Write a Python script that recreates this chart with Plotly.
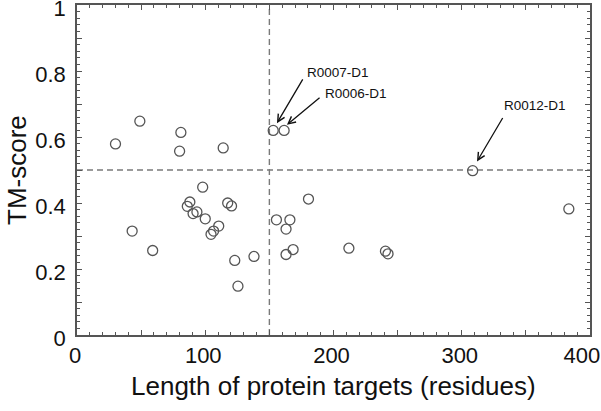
import plotly.graph_objects as go

# Data
length = [30, 49, 81, 80, 114, 98, 88, 86, 93.5, 90.5, 100, 117.5, 120.5, 110.5, 106.5,
          104.5, 43, 59, 123, 138, 125.5, 155.5, 166, 163, 168.5, 163, 153, 161.5,
          308.5, 180.5, 212, 240.5, 242.5, 383.5]
tm_score = [0.579, 0.648, 0.614, 0.557, 0.567, 0.448, 0.403, 0.390, 0.373, 0.368, 0.352,
            0.400, 0.391, 0.330, 0.315, 0.305, 0.315, 0.256, 0.226, 0.238, 0.148, 0.349,
            0.349, 0.321, 0.259, 0.244, 0.620, 0.620, 0.498, 0.412, 0.263, 0.254, 0.246,
            0.382]

length_cut = 150
tm_cut = 0.5

# annotations: label, arrow tip (x, y), arrow tail (x, y), label position (x, y)
ann_labels = ["R0007-D1", "R0006-D1", "R0012-D1"]
ann_tip_x = [155.9, 163.7, 311.9]
ann_tip_y = [0.642, 0.637, 0.526]
ann_tail_x = [176.7, 190.3, 332.6]
ann_tail_y = [0.779, 0.7225, 0.662]
ann_text_x = [177.5, 191.5, 331.5]
ann_text_y = [0.796, 0.731, 0.694]

NBSP = "\u00a0"
x_tickvals = [0, 50, 100, 150, 200, 250, 300, 350, 400]
x_ticktext = ["0", "", "100", "", "200", "", "300", "", "400" + NBSP * 2]
y_tickvals = [0, 0.1, 0.2, 0.3, 0.4, 0.5, 0.6, 0.7, 0.8, 0.9, 1.0]
y_ticktext = ["0", "", "0.2", "", "0.4", "", "0.6", "", "0.8", "", "1"]

x_title = "Length of protein targets (residues)"
y_title = "TM-score"

FONT = "Arial, 'Liberation Sans', sans-serif"
AXIS_COLOR = "#555555"
DASH_COLOR = "#7a7a7a"

W, H = 601, 411
ML, MR, MT, MB = 77, 11, 5, 76
PW, PH = W - ML - MR, H - MT - MB

fig = go.Figure()

fig.add_trace(go.Scatter(x=[length_cut, length_cut], y=[0, 1], mode="lines",
                         line=dict(color=DASH_COLOR, width=1.4, dash="6px,4px"),
                         hoverinfo="skip", showlegend=False))
fig.add_trace(go.Scatter(x=[0, 400], y=[tm_cut, tm_cut], mode="lines",
                         line=dict(color=DASH_COLOR, width=1.4, dash="6px,4px"),
                         hoverinfo="skip", showlegend=False))

fig.add_trace(go.Scatter(x=length, y=tm_score, mode="markers",
                         marker=dict(symbol="circle-open", size=10,
                                     color="#555555", line=dict(width=1.3)),
                         showlegend=False))

for lab, tx, ty, ax_, ay_, lx, ly in zip(ann_labels, ann_tip_x, ann_tip_y,
                                        ann_tail_x, ann_tail_y, ann_text_x, ann_text_y):
    fig.add_annotation(x=tx, y=ty, ax=ax_, ay=ay_, xref="x", yref="y",
                       axref="x", ayref="y", text="", showarrow=True,
                       arrowhead=5, arrowsize=1.1, arrowwidth=1.3, arrowcolor="#111111",
                       standoff=0, startstandoff=0)
    fig.add_annotation(x=lx, y=ly, xref="x", yref="y", text=lab, showarrow=False,
                       xanchor="left", yanchor="middle",
                       font=dict(family=FONT, size=13.5, color="#111111"))

# axis titles as paper-positioned annotations
fig.add_annotation(x=0.5, y=((MT + PH) - 386) / PH, xref="paper", yref="paper",
                   text=x_title, showarrow=False, xanchor="center", yanchor="middle",
                   font=dict(family=FONT, size=26, color="#111111"))
fig.add_annotation(x=(17 - ML) / PW, y=0.5, xref="paper", yref="paper",
                   text=y_title, showarrow=False, xanchor="center", yanchor="middle",
                   textangle=-90, font=dict(family=FONT, size=26, color="#111111"))

fig.update_xaxes(range=[0, 400], tickvals=x_tickvals, ticktext=x_ticktext,
                 ticks="inside", ticklen=5, tickwidth=1, tickcolor=AXIS_COLOR,
                 minor=dict(dtick=10, ticks="inside", ticklen=3, tickcolor=AXIS_COLOR),
                 showline=True, linecolor=AXIS_COLOR, linewidth=1.5, mirror="ticks",
                 showgrid=False, zeroline=False, automargin=False,
                 ticklabeloverflow="allow", ticklabelstandoff=0, ticklabelshift=-2,
                 tickfont=dict(family=FONT, size=22, color="#111111"))
fig.update_yaxes(range=[0, 1], tickvals=y_tickvals, ticktext=y_ticktext,
                 ticks="inside", ticklen=5, tickwidth=1, tickcolor=AXIS_COLOR,
                 minor=dict(dtick=0.02, ticks="inside", ticklen=3, tickcolor=AXIS_COLOR),
                 showline=True, linecolor=AXIS_COLOR, linewidth=1.5, mirror="ticks",
                 showgrid=False, zeroline=False, automargin=False,
                 ticklabeloverflow="allow", ticklabelstandoff=5, ticklabelshift=3,
                 tickfont=dict(family=FONT, size=22, color="#111111"))

fig.update_layout(width=W, height=H,
                  margin=dict(l=ML, r=MR, t=MT, b=MB),
                  plot_bgcolor="white", paper_bgcolor="white")

fig.write_html("out.html", config={"displayModeBar": False},
               post_script="document.body.style.margin='0';document.body.style.overflow='hidden';")
